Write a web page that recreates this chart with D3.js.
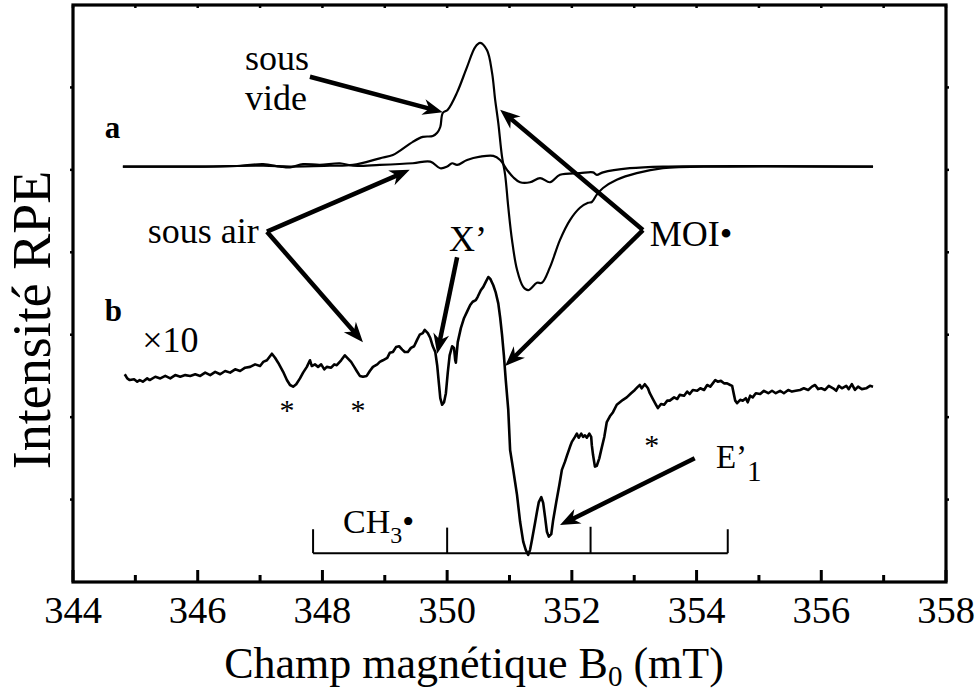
<!DOCTYPE html>
<html>
<head>
<meta charset="utf-8">
<script src="https://cdn.jsdelivr.net/npm/d3@7"></script>
<style>
  html, body { margin: 0; padding: 0; background: #fff; }
  text { font-family: "Liberation Serif", "Times New Roman", serif; fill: #000; }
</style>
</head>
<body>
<svg id="chart" width="975" height="700"></svg>
<script>
// ---------- DATA ----------
// Field axis (mT)
const xTicksMajor = [344, 346, 348, 350, 352, 354, 356, 358];
const xTicksMinor = [345, 347, 349, 351, 353, 355, 357];
const yTicks = [1, 2, 3, 4, 5, 6];

// Spectrum a, under vacuum ("sous vide") [B (mT), intensity]
const sousVide = [
  [344.80,5.04],[346.04,5.04],[347.05,5.05],[347.48,5.04],[348.12,5.05],[348.49,5.06],
  [348.92,5.14],[349.13,5.18],[349.24,5.23],[349.45,5.34],[349.61,5.40],[349.77,5.41],
  [349.84,5.45],[349.89,5.52],[349.93,5.69],[350.01,5.73],[350.16,5.94],[350.32,6.25],
  [350.45,6.49],[350.53,6.54],[350.64,6.45],[350.72,6.18],[350.77,5.85],[350.82,5.57],
  [350.88,5.16],[350.93,4.94],[350.98,4.55],[351.04,4.15],[351.12,3.79],[351.22,3.58],
  [351.30,3.54],[351.44,3.63],[351.52,3.63],[351.65,3.82],[351.81,4.15],[351.97,4.39],
  [352.13,4.54],[352.26,4.60],[352.32,4.61],[352.40,4.70],[352.50,4.78],[352.72,4.88],
  [353.04,4.96],[353.46,5.02],[354.38,5.04],[356.83,5.04]
];

// Spectrum a, under air ("sous air")
const sousAir = [
  [344.80,5.04],[346.04,5.04],[346.68,5.05],[347.05,5.07],[347.32,5.04],[347.48,5.03],
  [347.69,5.07],[347.96,5.06],[348.28,5.08],[348.49,5.05],[348.92,5.06],[349.45,5.08],
  [349.73,5.10],[349.89,5.02],[350.00,5.04],[350.08,5.08],[350.16,5.06],[350.32,5.12],
  [350.53,5.16],[350.74,5.17],[350.85,5.12],[350.96,5.00],[351.06,4.91],[351.17,4.85],
  [351.33,4.85],[351.49,4.90],[351.65,4.85],[351.81,4.94],[352.13,4.96],[352.34,4.97],
  [352.40,4.94],[352.50,4.97],[352.93,5.02],[353.46,5.04],[356.83,5.04]
];

// Spectrum b (x10)
const spectreB = [
  [344.83,2.52],[344.87,2.47],[344.91,2.45],[344.98,2.46],[345.03,2.43],[345.07,2.45],
  [345.12,2.43],[345.19,2.47],[345.23,2.45],[345.32,2.49],[345.40,2.47],[345.48,2.50],
  [345.56,2.47],[345.64,2.51],[345.72,2.49],[345.80,2.51],[345.88,2.50],[345.96,2.52],
  [346.04,2.50],[346.12,2.54],[346.20,2.51],[346.28,2.55],[346.36,2.52],[346.44,2.56],
  [346.52,2.54],[346.60,2.58],[346.68,2.56],[346.76,2.60],[346.84,2.61],[346.92,2.64],
  [347.00,2.62],[347.05,2.67],[347.11,2.69],[347.19,2.77],[347.24,2.72],[347.29,2.66],
  [347.37,2.55],[347.43,2.45],[347.48,2.39],[347.53,2.37],[347.58,2.40],[347.64,2.47],
  [347.69,2.54],[347.75,2.61],[347.80,2.69],[347.83,2.62],[347.88,2.64],[347.93,2.61],
  [347.98,2.64],[348.03,2.58],[348.07,2.61],[348.14,2.60],[348.19,2.64],[348.23,2.63],
  [348.30,2.69],[348.36,2.75],[348.41,2.71],[348.46,2.67],[348.51,2.61],[348.55,2.56],
  [348.60,2.50],[348.65,2.49],[348.71,2.50],[348.76,2.56],[348.81,2.61],[348.88,2.64],
  [348.92,2.67],[348.97,2.69],[349.04,2.72],[349.08,2.78],[349.13,2.79],[349.18,2.85],
  [349.23,2.86],[349.28,2.82],[349.32,2.79],[349.37,2.79],[349.42,2.84],[349.47,2.86],
  [349.52,2.94],[349.56,3.00],[349.61,3.02],[349.64,3.06],[349.69,3.02],[349.73,2.96],
  [349.77,2.86],[349.81,2.79],[349.84,2.63],[349.87,2.39],[349.89,2.23],[349.92,2.15],
  [349.95,2.18],[349.98,2.29],[350.01,2.54],[350.04,2.75],[350.08,2.86],[350.11,2.84],
  [350.13,2.69],[350.14,2.66],[350.17,2.91],[350.22,3.08],[350.27,3.20],[350.32,3.28],
  [350.37,3.36],[350.41,3.40],[350.46,3.42],[350.49,3.46],[350.54,3.54],[350.58,3.58],
  [350.62,3.64],[350.66,3.70],[350.69,3.68],[350.74,3.60],[350.78,3.51],[350.82,3.38],
  [350.85,3.21],[350.88,3.00],[350.91,2.75],[350.94,2.45],[350.98,2.09],[351.01,1.60],
  [351.06,1.36],[351.09,1.21],[351.12,1.06],[351.17,0.73],[351.22,0.49],[351.26,0.39],
  [351.30,0.33],[351.33,0.39],[351.36,0.51],[351.41,0.72],[351.44,0.85],[351.47,0.97],
  [351.51,1.03],[351.54,0.96],[351.57,0.79],[351.60,0.61],[351.63,0.55],[351.67,0.58],
  [351.70,0.75],[351.75,0.97],[351.80,1.18],[351.84,1.36],[351.89,1.46],[351.92,1.53],
  [351.97,1.64],[352.00,1.70],[352.05,1.76],[352.08,1.80],[352.11,1.75],[352.15,1.80],
  [352.18,1.76],[352.21,1.78],[352.24,1.75],[352.28,1.80],[352.31,1.76],[352.32,1.66],
  [352.34,1.54],[352.37,1.40],[352.40,1.41],[352.44,1.50],[352.47,1.60],[352.52,1.76],
  [352.56,1.94],[352.61,2.01],[352.66,2.06],[352.72,2.15],[352.77,2.18],[352.82,2.21],
  [352.88,2.24],[352.95,2.29],[353.01,2.33],[353.06,2.37],[353.09,2.39],[353.12,2.35],
  [353.17,2.40],[353.22,2.35],[353.25,2.29],[353.30,2.22],[353.35,2.15],[353.38,2.11],
  [353.43,2.16],[353.48,2.15],[353.53,2.20],[353.57,2.20],[353.64,2.24],[353.69,2.22],
  [353.73,2.27],[353.80,2.26],[353.85,2.31],[353.89,2.28],[353.94,2.33],[354.01,2.32],
  [354.06,2.35],[354.12,2.33],[354.17,2.39],[354.22,2.37],[354.26,2.41],[354.30,2.45],
  [354.34,2.43],[354.39,2.44],[354.44,2.41],[354.49,2.41],[354.54,2.39],[354.57,2.38],
  [354.60,2.27],[354.62,2.20],[354.65,2.17],[354.70,2.21],[354.74,2.20],[354.79,2.23],
  [354.82,2.18],[354.86,2.26],[354.90,2.24],[354.95,2.29],[355.02,2.28],[355.08,2.32],
  [355.15,2.29],[355.21,2.32],[355.27,2.29],[355.34,2.32],[355.40,2.29],[355.47,2.33],
  [355.53,2.31],[355.59,2.32],[355.66,2.33],[355.72,2.35],[355.79,2.33],[355.85,2.37],
  [355.90,2.39],[355.95,2.34],[356.00,2.35],[356.06,2.33],[356.12,2.38],[356.19,2.35],
  [356.24,2.32],[356.28,2.38],[356.33,2.35],[356.40,2.38],[356.44,2.34],[356.49,2.40],
  [356.54,2.33],[356.59,2.37],[356.65,2.34],[356.72,2.35],[356.78,2.38],[356.83,2.37]
];

// CH3• quartet line positions (mT)
const ch3Lines = [347.85, 350.0, 352.3, 354.5];
const ch3Base = 0.35;
const ch3Tops = [0.64, 0.66, 0.67, 0.64];

// Annotation arrows [from, to] in data coordinates
const arrows = [
  [[347.80, 6.13], [349.93, 5.70]],   // sous vide
  [[347.11, 4.25], [349.40, 5.00]],   // sous air -> a
  [[347.11, 4.25], [348.65, 2.91]],   // sous air -> b
  [[350.16, 3.94], [349.84, 2.77]],   // X'
  [[353.14, 4.27], [350.85, 5.73]],   // MOI -> a
  [[353.14, 4.27], [350.93, 2.62]],   // MOI -> b
  [[353.97, 1.50], [351.81, 0.69]]    // E'1
];

const asterisks = [[347.43, 1.97], [348.57, 1.97], [353.28, 1.54]];

// ---------- DRAW ----------
const svg = d3.select("#chart");
const x = d3.scaleLinear().domain([344, 358]).range([73, 946]);
const y = d3.scaleLinear().domain([0, 7]).range([582, 5]);

const FS = 36;

const lineSmooth = d3.line().x(d => x(d[0])).y(d => y(d[1])).curve(d3.curveCatmullRom.alpha(0.5));
const lineRaw = d3.line().x(d => x(d[0])).y(d => y(d[1]));

svg.append("path").datum(sousAir).attr("d", lineSmooth)
  .attr("fill", "none").attr("stroke", "#000").attr("stroke-width", 2.2).attr("stroke-linejoin", "round");
svg.append("path").datum(sousVide).attr("d", lineSmooth)
  .attr("fill", "none").attr("stroke", "#000").attr("stroke-width", 2.2).attr("stroke-linejoin", "round");
svg.append("path").datum(spectreB).attr("d", lineRaw)
  .attr("fill", "none").attr("stroke", "#000").attr("stroke-width", 2.6).attr("stroke-linejoin", "round");

// CH3 bracket
svg.append("line").attr("x1", x(ch3Lines[0])).attr("x2", x(ch3Lines[3]))
  .attr("y1", y(ch3Base)).attr("y2", y(ch3Base)).attr("stroke", "#000").attr("stroke-width", 2);
ch3Lines.forEach((v, i) => {
  svg.append("line").attr("x1", x(v)).attr("x2", x(v))
    .attr("y1", y(ch3Base)).attr("y2", y(ch3Tops[i])).attr("stroke", "#000").attr("stroke-width", 2);
});

// Arrows
arrows.forEach(([a, b]) => {
  const x1 = x(a[0]), y1 = y(a[1]), x2 = x(b[0]), y2 = y(b[1]);
  const L = Math.hypot(x2 - x1, y2 - y1);
  const ux = (x2 - x1) / L, uy = (y2 - y1) / L;
  svg.append("line").attr("x1", x1).attr("y1", y1)
    .attr("x2", x2 - ux * 10).attr("y2", y2 - uy * 10)
    .attr("stroke", "#000").attr("stroke-width", 4.5);
  svg.append("path")
    .attr("d", `M${x2},${y2} L${x2 - ux*20 - uy*8},${y2 - uy*20 + ux*8} L${x2 - ux*14},${y2 - uy*14} L${x2 - ux*20 + uy*8},${y2 - uy*20 - ux*8} Z`)
    .attr("fill", "#000");
});

// Frame
svg.append("rect").attr("x", x(344)).attr("y", y(7)).attr("width", x(358) - x(344)).attr("height", y(0) - y(7))
  .attr("fill", "none").attr("stroke", "#000").attr("stroke-width", 3.2);

// Bottom ticks
xTicksMajor.forEach(v => {
  svg.append("line").attr("x1", x(v)).attr("x2", x(v)).attr("y1", y(0)).attr("y2", y(0) - 12)
    .attr("stroke", "#000").attr("stroke-width", 3);
});
xTicksMinor.forEach(v => {
  svg.append("line").attr("x1", x(v)).attr("x2", x(v)).attr("y1", y(0)).attr("y2", y(0) - 7)
    .attr("stroke", "#000").attr("stroke-width", 3);
});
// Top ticks
xTicksMajor.concat(xTicksMinor).forEach(v => {
  svg.append("line").attr("x1", x(v)).attr("x2", x(v)).attr("y1", y(7)).attr("y2", y(7) + 3)
    .attr("stroke", "#000").attr("stroke-width", 2.5);
});
// Side ticks
yTicks.forEach(v => {
  svg.append("line").attr("x1", x(344) - 3).attr("x2", x(344)).attr("y1", y(v)).attr("y2", y(v))
    .attr("stroke", "#000").attr("stroke-width", 2.5);
  svg.append("line").attr("x1", x(358)).attr("x2", x(358) + 3).attr("y1", y(v)).attr("y2", y(v))
    .attr("stroke", "#000").attr("stroke-width", 2.5);
});

// Tick labels
xTicksMajor.forEach(v => {
  svg.append("text").attr("x", x(v)).attr("y", 623).attr("text-anchor", "middle")
    .attr("font-size", 38.5).text(v);
});

// Axis titles
const xt = svg.append("text").attr("x", 474).attr("y", 678).attr("text-anchor", "middle").attr("font-size", 44);
xt.append("tspan").text("Champ magnétique B");
xt.append("tspan").attr("font-size", 29).attr("dy", 8).text("0");
xt.append("tspan").attr("dy", -8).text(" (mT)");

svg.append("text").attr("transform", "translate(50,320) rotate(-90)").attr("text-anchor", "middle")
  .attr("font-size", 54).text("Intensité RPE");

// Annotations
function label(xv, yv, txt, opts = {}) {
  return svg.append("text").attr("x", x(xv)).attr("y", y(yv))
    .attr("font-size", opts.fs || FS).attr("font-weight", opts.bold ? "bold" : "normal")
    .attr("text-anchor", opts.anchor || "start").text(txt);
}
label(346.76, 6.21, "sous");
label(346.76, 5.73, "vide");
label(344.51, 5.39, "a", { bold: true, fs: 31 });
label(344.51, 3.17, "b", { bold: true, fs: 31 });
label(345.20, 4.11, "sous air");
label(345.11, 2.79, "×10");
label(353.25, 4.08, "MOI•");
label(350.03, 4.02, "X’");
asterisks.forEach(a => label(a[0], a[1], "*", { anchor: "middle", fs: 30 }));

const e1 = label(354.31, 1.38, "E’", { fs: 33 });
e1.append("tspan").attr("dy", 13).attr("font-size", 29).text("1");

const ch3 = label(348.33, 0.59, "CH", { fs: 34 });
ch3.append("tspan").attr("dy", 10).attr("font-size", 24).text("3");
ch3.append("tspan").attr("dy", -10).text("•");
</script>
</body>
</html>
